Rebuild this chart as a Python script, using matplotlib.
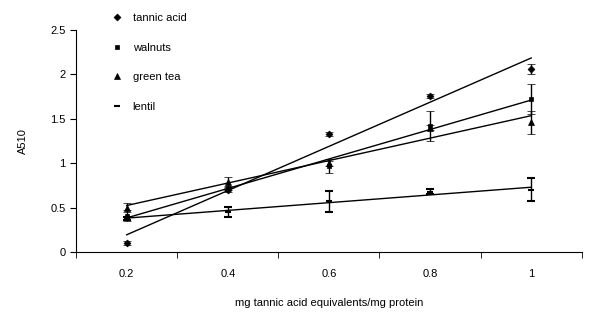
import numpy as np
import matplotlib
matplotlib.use('Agg')
import matplotlib.pyplot as plt
from matplotlib.lines import Line2D

plt.rcParams['font.family'] = ['Liberation Sans', 'DejaVu Sans']

# data
doses = ['0.2', '0.4', '0.6', '0.8', '1']
tannic = [0.10, 0.70, 1.33, 1.76, 2.06]
tannic_err = [0.02, 0.02, 0.02, 0.02, 0.06]
walnuts = [0.41, 0.72, 0.97, 1.42, 1.72]
walnuts_err = [0.06, 0.02, 0.08, 0.17, 0.17]
greentea = [0.50, 0.79, 1.00, 1.40, 1.46]
greentea_err = [0.05, 0.06, 0.03, 0.03, 0.13]
lentil = [0.38, 0.45, 0.57, 0.68, 0.70]
lentil_err = [0.02, 0.06, 0.12, 0.03, 0.13]

series = [
    ('tannic acid', tannic, tannic_err, 'D', 3.5),
    ('walnuts', walnuts, walnuts_err, 's', 3.5),
    ('green tea', greentea, greentea_err, '^', 4.5),
    ('lentil', lentil, lentil_err, '_', 4.5),
]

fig = plt.figure(figsize=(5.9, 3.17), dpi=100)
ax = fig.add_axes([0.129, 0.205, 0.857, 0.70])

x = np.arange(len(doses))
handles = []
for name, y, err, mk, ms in series:
    ax.errorbar(x, y, yerr=err, fmt=mk, color='black', ms=ms, mew=1.5 if mk == '_' else 0.5,
                ecolor='black', elinewidth=1, capsize=3, capthick=1)
    # linear trend line
    k, b = np.polyfit(x, y, 1)
    ax.plot([x[0], x[-1]], [b + k * x[0], b + k * x[-1]], color='black', lw=1)
    handles.append(Line2D([], [], marker=mk, color='black', ls='none', ms=ms,
                          mew=1.5 if mk == '_' else 0.5))

ax.set_xlim(-0.5, len(doses) - 0.5)
ax.set_ylim(0, 2.5)
ax.set_yticks([0, 0.5, 1, 1.5, 2, 2.5])
ax.set_yticklabels(['0', '0.5', '1', '1.5', '2', '2.5'])
ax.set_xticks(x)
ax.set_xticklabels(doses)
ax.set_xticks(np.arange(-0.5, len(doses)), minor=True)
ax.tick_params(axis='x', which='major', length=0, pad=12, labelsize=8)
ax.tick_params(axis='x', which='minor', length=4, direction='out')
ax.tick_params(axis='y', length=4, direction='out', labelsize=8)
ax.spines['top'].set_visible(False)
ax.spines['right'].set_visible(False)

ax.set_ylabel('A510', fontsize=8, labelpad=16)
ax.set_xlabel('mg tannic acid equivalents/mg protein', fontsize=8, labelpad=14)

fig.legend(handles, [s[0] for s in series], loc='upper left', bbox_to_anchor=(0.17, 0.99),
           frameon=False, fontsize=8, labelspacing=1.75, handlelength=1.2, handletextpad=0.8)

fig.savefig('out.png', dpi=100)
